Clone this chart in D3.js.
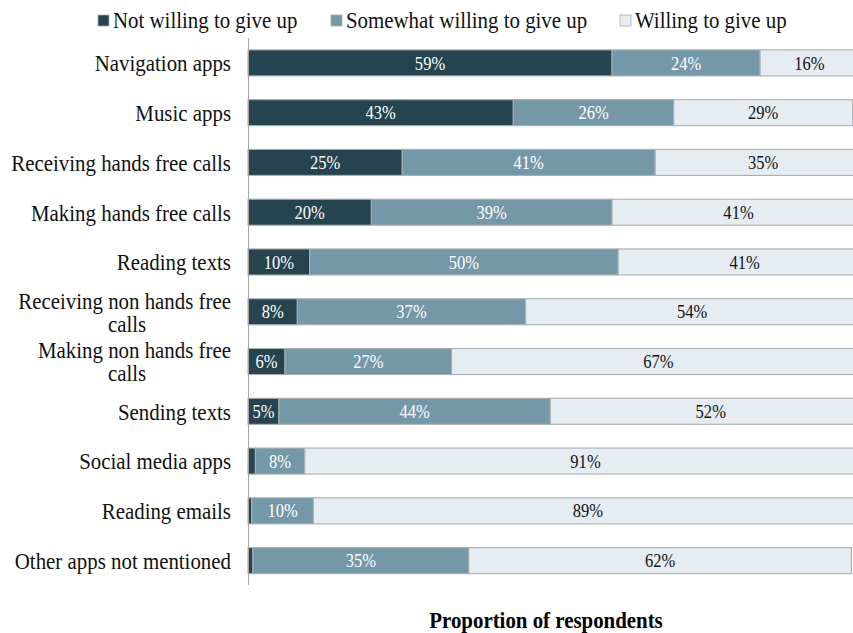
<!DOCTYPE html>
<html>
<head>
<meta charset="utf-8">
<script src="https://cdn.jsdelivr.net/npm/d3@7"></script>
<style>
  html, body { margin: 0; padding: 0; background: #fff; }
  svg { display: block; }
  text { font-family: "Liberation Serif", "Times New Roman", serif; }
</style>
</head>
<body>
<svg id="chart" width="853" height="633"></svg>
<script>
// Share of respondents by willingness to give up each in-car phone feature (%)
const categories = [
  "Navigation apps",
  "Music apps",
  "Receiving hands free calls",
  "Making hands free calls",
  "Reading texts",
  "Receiving non hands free calls",
  "Making non hands free calls",
  "Sending texts",
  "Social media apps",
  "Reading emails",
  "Other apps not mentioned"
];
const notWilling      = [59, 43, 25, 20, 10, 8, 6, 5, 1.2, 0.6, 0.8];
const somewhatWilling = [24, 26, 41, 39, 50, 37, 27, 44, 8, 10, 35];
const willing         = [16, 29, 35, 41, 41, 54, 67, 52, 91, 89, 62];
const seriesNames = ["Not willing to give up", "Somewhat willing to give up", "Willing to give up"];
const seriesColors = ["#26444f", "#7598a8", "#e5ecf2"];
const labelColors = ["#ffffff", "#ffffff", "#111111"];
const axisTitle = "Proportion of respondents";

const SX = 0.87; // horizontal condensing of the serif face

const svg = d3.select("#chart");

const x = d3.scaleLinear().domain([0, 100]).range([248, 865]);
const y = d3.scaleBand().domain(categories).range([38, 585.5])
  .paddingInner(0.477).paddingOuter(0.2385);

const rows = categories.map((c, i) => ({ category: c, v0: notWilling[i], v1: somewhatWilling[i], v2: willing[i] }));
const stack = d3.stack().keys(["v0", "v1", "v2"])(rows);

function condensedText(sel, px, py) {
  return sel.attr("transform", `translate(${px},${py}) scale(${SX},1)`);
}

// Stacked bars
const layers = svg.append("g").selectAll("g").data(stack).join("g")
  .attr("fill", (d, i) => seriesColors[i]);

layers.selectAll("rect").data(d => d).join("rect")
  .attr("x", d => x(d[0]))
  .attr("y", d => y(d.data.category))
  .attr("width", d => x(d[1]) - x(d[0]))
  .attr("height", y.bandwidth())
  .attr("stroke", "#a9afb3")
  .attr("stroke-width", 1.1);

// Segment value labels
stack.forEach((layer, li) => {
  svg.append("g").selectAll("text")
    .data(layer.filter(d => d[1] - d[0] >= 3))
    .join("text")
    .each(function (d) {
      condensedText(d3.select(this), (x(d[0]) + x(d[1])) / 2, y(d.data.category) + y.bandwidth() / 2);
    })
    .attr("text-anchor", "middle")
    .attr("dy", "0.35em")
    .attr("font-size", 19)
    .attr("fill", labelColors[li])
    .text(d => Math.round(d[1] - d[0]) + "%");
});

// Category axis
svg.append("line")
  .attr("x1", 248.5).attr("x2", 248.5)
  .attr("y1", 38).attr("y2", 585)
  .attr("stroke", "#a6a6a6").attr("stroke-width", 1);

const labelRight = 231, labelCenter = 127, maxLabelWidth = 232, lineGap = 23;
const catG = svg.append("g");
categories.forEach(c => {
  const cy = y(c) + y.bandwidth() / 2;
  const probe = condensedText(catG.append("text"), labelRight, cy)
    .attr("text-anchor", "end").attr("dy", "0.35em")
    .attr("font-size", 24).attr("fill", "#111").text(c);
  const w = probe.node().getComputedTextLength() * SX;
  if (w <= maxLabelWidth) return;
  probe.remove();
  // wrap onto two lines
  const words = c.split(" ");
  let first = [];
  let rest = [];
  for (let k = words.length; k > 0; k--) {
    const t = condensedText(catG.append("text"), 0, 0).attr("font-size", 24).text(words.slice(0, k).join(" "));
    const tw = t.node().getComputedTextLength() * SX;
    t.remove();
    if (tw <= maxLabelWidth) { first = words.slice(0, k); rest = words.slice(k); break; }
  }
  condensedText(catG.append("text"), labelRight, cy - lineGap / 2)
    .attr("text-anchor", "end").attr("dy", "0.35em")
    .attr("font-size", 24).attr("fill", "#111").text(first.join(" "));
  condensedText(catG.append("text"), labelCenter, cy + lineGap / 2)
    .attr("text-anchor", "middle").attr("dy", "0.35em")
    .attr("font-size", 24).attr("fill", "#111").text(rest.join(" "));
});

// Legend
const legendX = [98, 331, 620];
const legend = svg.append("g");
seriesNames.forEach((name, i) => {
  legend.append("rect")
    .attr("x", legendX[i]).attr("y", 15).attr("width", 11).attr("height", 11)
    .attr("fill", seriesColors[i]).attr("stroke", "#a9afb3").attr("stroke-width", 0.8);
  condensedText(legend.append("text"), legendX[i] + 15, 28)
    .attr("font-size", 24).attr("fill", "#111").text(name);
});

// Axis title
condensedText(svg.append("text"), 546, 628)
  .attr("text-anchor", "middle")
  .attr("font-size", 24).attr("font-weight", "bold").attr("fill", "#000")
  .text(axisTitle);
</script>
</body>
</html>
